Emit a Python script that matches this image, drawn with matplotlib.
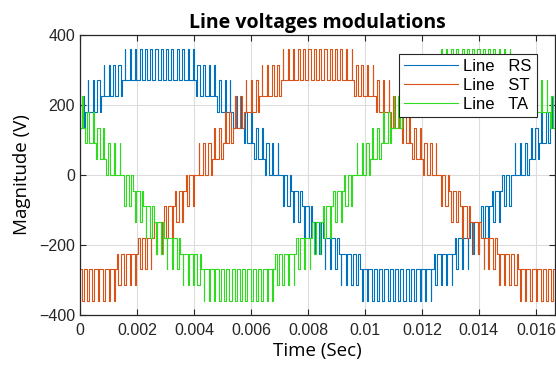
import numpy as np
from matplotlib import pyplot as plt

# local average of each line voltage per switching slot (90 slots per cycle)
period = 1 / 60.0
step_v = 45

rs_ref = [164, 182, 199, 216, 230, 244, 257, 269, 279, 287, 295, 301, 305, 308, 310,
          310, 308, 305, 301, 295, 287, 279, 269, 257, 244, 230, 216, 199, 182, 164,
          146, 126, 106, 86, 64, 43, 22, 0, -22, -43, -64, -86, -106, -126, -146,
          -164, -182, -199, -216, -230, -244, -257, -269, -279, -287, -295, -301, -305, -308, -310,
          -310, -308, -305, -301, -295, -287, -279, -269, -257, -244, -230, -216, -199, -182, -164,
          -146, -126, -106, -86, -64, -43, -22, 0, 22, 43, 64, 86, 106, 126, 146]
st_ref = [-310, -308, -305, -301, -295, -287, -279, -269, -257, -244, -230, -216, -199, -182, -164,
          -146, -126, -106, -86, -64, -43, -22, 0, 22, 43, 64, 86, 106, 126, 146,
          164, 182, 199, 216, 230, 244, 257, 269, 279, 287, 295, 301, 305, 308, 310,
          310, 308, 305, 301, 295, 287, 279, 269, 257, 244, 230, 216, 199, 182, 164,
          146, 126, 106, 86, 64, 43, 22, 0, -22, -43, -64, -86, -106, -126, -146,
          -164, -182, -199, -216, -230, -244, -257, -269, -279, -287, -295, -301, -305, -308, -310]
ta_ref = [146, 126, 106, 86, 64, 43, 22, 0, -22, -43, -64, -86, -106, -126, -146,
          -164, -182, -199, -216, -230, -244, -257, -269, -279, -287, -295, -301, -305, -308, -310,
          -310, -308, -305, -301, -295, -287, -279, -269, -257, -244, -230, -216, -199, -182, -164,
          -146, -126, -106, -86, -64, -43, -22, 0, 22, 43, 64, 86, 106, 126, 146,
          164, 182, 199, 216, 230, 244, 257, 269, 279, 287, 295, 301, 305, 308, 310,
          310, 308, 305, 301, 295, 287, 279, 269, 257, 244, 230, 216, 199, 182, 164]

names = ['Line   RS', 'Line   ST', 'Line   TA']
colors = ['#0072BD', '#D95319', '#2EDB1E']
x_ticks = [0, 0.002, 0.004, 0.006, 0.008, 0.01, 0.012, 0.014, 0.016]
x_tick_labels = ['0', '0.002', '0.004', '0.006', '0.008', '0.01', '0.012', '0.014', '0.016']
y_ticks = [-400, -200, 0, 200, 400]


# staircase with a two-level spike in each slot (outwards from zero), same average as the reference
def pwm_wave(ref):
    n = len(ref)
    tc = period / n
    ts, vs = [], []
    for k, r in enumerate(ref):
        sign = 1 if r >= 0 else -1
        base = sign * np.floor(abs(r) / step_v) * step_v
        w = abs(r - base) / step_v / 2
        t0 = k * tc
        t1 = t0 + (1 - w) / 2 * tc
        t2 = t1 + w * tc
        ts += [t0, t1, t2]
        vs += [base, base + sign * 2 * step_v, base]
    ts.append(period)
    vs.append(vs[-1])
    return np.array(ts), np.array(vs)


plt.rcParams['font.family'] = ['Liberation Sans', 'DejaVu Sans']

fig = plt.figure(figsize=(5.56, 3.71), dpi=100)
ax = fig.add_axes([0.144, 0.151, 0.854, 0.755])

for ref, name, c in zip([rs_ref, st_ref, ta_ref], names, colors):
    t, v = pwm_wave(ref)
    ax.step(t, v, where='post', color=c, lw=0.8, label=name)

ax.set_xlim(0, period)
ax.set_ylim(-400, 400)
ax.set_xticks(x_ticks)
ax.set_xticklabels(x_tick_labels)
ax.set_yticks(y_ticks)
ax.tick_params(direction='in', labelsize=11.5, top=True, right=True, length=4,
               colors='#262626')
ax.tick_params(axis='x', pad=6)
ax.grid(True, color='#dddddd', lw=0.8)
ax.set_axisbelow(True)
for s in ax.spines.values():
    s.set_color('#262626')
    s.set_linewidth(0.9)

ax.set_title('Line voltages modulations', fontsize=14, fontweight='bold', family='Open Sans', pad=5)
ax.set_xlabel('Time (Sec)', fontsize=13.5, family='Open Sans', labelpad=3)
ax.set_ylabel('Magnitude (V)', fontsize=13.5, family='Open Sans', labelpad=6)

leg = ax.legend(loc='upper right', bbox_to_anchor=(0.962, 0.932), borderaxespad=0,
                fancybox=False, framealpha=1, edgecolor='#262626', fontsize=12,
                handlelength=3.2, handletextpad=0.35, labelspacing=0.25, borderpad=0.3)
leg.get_frame().set_linewidth(0.8)

plt.savefig('out.png', dpi=100)
